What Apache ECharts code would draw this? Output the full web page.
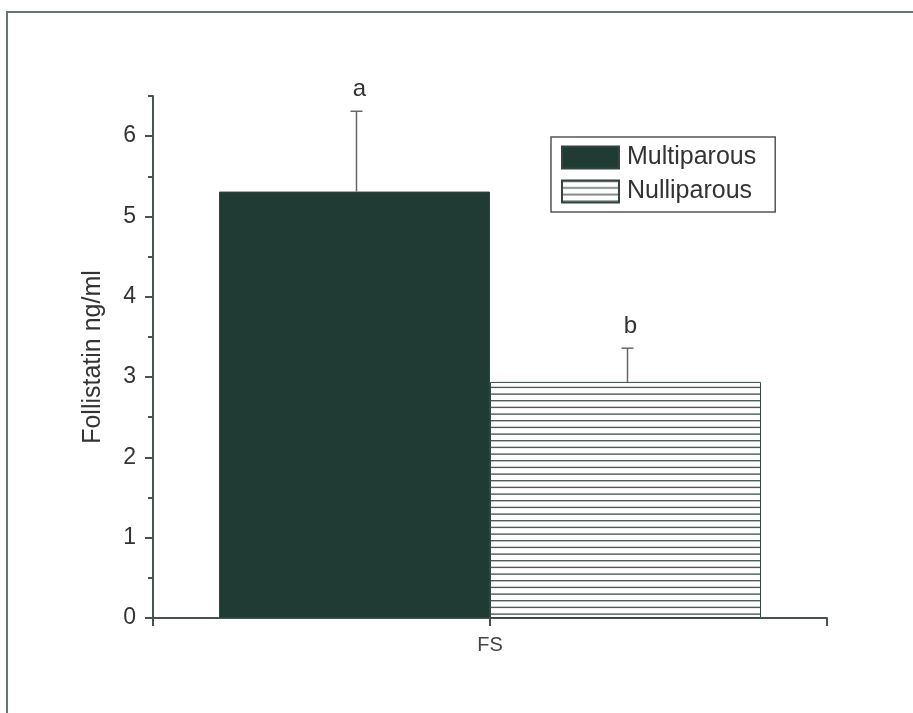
<!DOCTYPE html>
<html>
<head>
<meta charset="utf-8">
<script src="https://cdn.jsdelivr.net/npm/echarts@6/dist/echarts.min.js"></script>
<style>
  html, body {margin: 0; padding: 0; background: #fff;}
  #chart {width: 913px; height: 713px;}
</style>
</head>
<body>
<div id="chart"></div>
<script>
const categories = ['FS'];
const groups = ['Multiparous', 'Nulliparous'];
const means = [5.31, 2.94];
const errors = [1.0, 0.42];
const letters = ['a', 'b'];
const yTicks = [0, 1, 2, 3, 4, 5, 6];

// horizontal hatch for the nulliparous bar
function hatch() {
  const c = document.createElement('canvas');
  c.width = 8; c.height = 20;
  const ctx = c.getContext('2d');
  ctx.fillStyle = '#fff';
  ctx.fillRect(0, 0, 8, 20);
  ctx.strokeStyle = '#4d5c57';
  ctx.lineWidth = 1.4;
  [0.7, 7.4, 14.1].forEach(y => {
    ctx.beginPath(); ctx.moveTo(0, y); ctx.lineTo(8, y); ctx.stroke();
  });
  return {image: c, repeat: 'repeat'};
}

const fills = ['#203b34', hatch()];
const barW = 271;
const axisColor = '#4a524f';
const font = 'Liberation Sans, Arial, sans-serif';

const chart = echarts.init(document.getElementById('chart'));
const xData = ['', ...categories, ''];

chart.setOption({
  animation: false,
  textStyle: {fontFamily: font},
  grid: {left: 153, right: 86, top: 96, bottom: 95},
  legend: {
    orient: 'vertical', left: 551, top: 137,
    padding: [8, 19, 8, 10], itemGap: 9,
    itemWidth: 57, itemHeight: 22, icon: 'rect',
    borderColor: '#555', borderWidth: 1.5,
    textStyle: {fontSize: 25, lineHeight: 22, color: '#333', fontFamily: font, padding: [0, 0, 0, 3]},
    data: groups
  },
  xAxis: {
    type: 'category', data: xData, boundaryGap: false,
    axisLine: {lineStyle: {color: axisColor, width: 2}},
    axisTick: {length: 8, lineStyle: {color: axisColor, width: 2}},
    axisLabel: {fontSize: 20, color: '#444', margin: 17}
  },
  yAxis: [{
    type: 'value', min: 0, max: 6.5, interval: 0.5,
    name: 'Follistatin ng/ml', nameLocation: 'middle', nameGap: 47,
    nameTextStyle: {fontSize: 25, color: '#333'},
    axisLine: {show: true, lineStyle: {color: axisColor, width: 2}},
    axisTick: {show: true, length: 5, lineStyle: {color: axisColor, width: 2}},
    axisLabel: {customValues: yTicks, fontSize: 23, color: '#333', margin: 17},
    splitLine: {show: false}
  }, {
    type: 'value', min: 0, max: 6.5, position: 'left',
    axisLine: {show: false},
    axisTick: {show: true, customValues: yTicks, length: 8, lineStyle: {color: axisColor, width: 2}},
    axisLabel: {show: false},
    splitLine: {show: false}
  }],
  graphic: [{
    type: 'rect', shape: {x: 7, y: 12, width: 920, height: 720},
    style: {fill: 'none', stroke: '#6a7471', lineWidth: 2}, silent: true
  }],
  series: [
    ...groups.map((g, i) => ({
      name: g, type: 'bar', barWidth: barW, barGap: 0,
      data: [null, means[i], null],
      itemStyle: {color: fills[i], borderColor: '#34443f', borderWidth: 1}
    })),
    {
      type: 'custom', silent: true, z: 5,
      data: groups.map((g, i) => [1, means[i], errors[i], i]),
      renderItem: (params, api) => {
        const k = api.value(3);
        const off = (k === 0 ? -1 : 1) * barW / 2;
        const lo = api.coord([api.value(0), api.value(1)]);
        const hi = api.coord([api.value(0), api.value(1) + api.value(2)]);
        const x = lo[0] + off + 2;
        const st = {stroke: '#666', lineWidth: 1.5};
        return {type: 'group', children: [
          {type: 'line', shape: {x1: x, y1: lo[1], x2: x, y2: hi[1]}, style: st},
          {type: 'line', shape: {x1: x - 6, y1: hi[1], x2: x + 6, y2: hi[1]}, style: st},
          {type: 'text', style: {text: letters[k], x: x + 3, y: hi[1] - 10,
            align: 'center', verticalAlign: 'bottom', fontSize: 24, fill: '#333', fontFamily: font}}
        ]};
      }
    }
  ]
});
</script>
</body>
</html>
